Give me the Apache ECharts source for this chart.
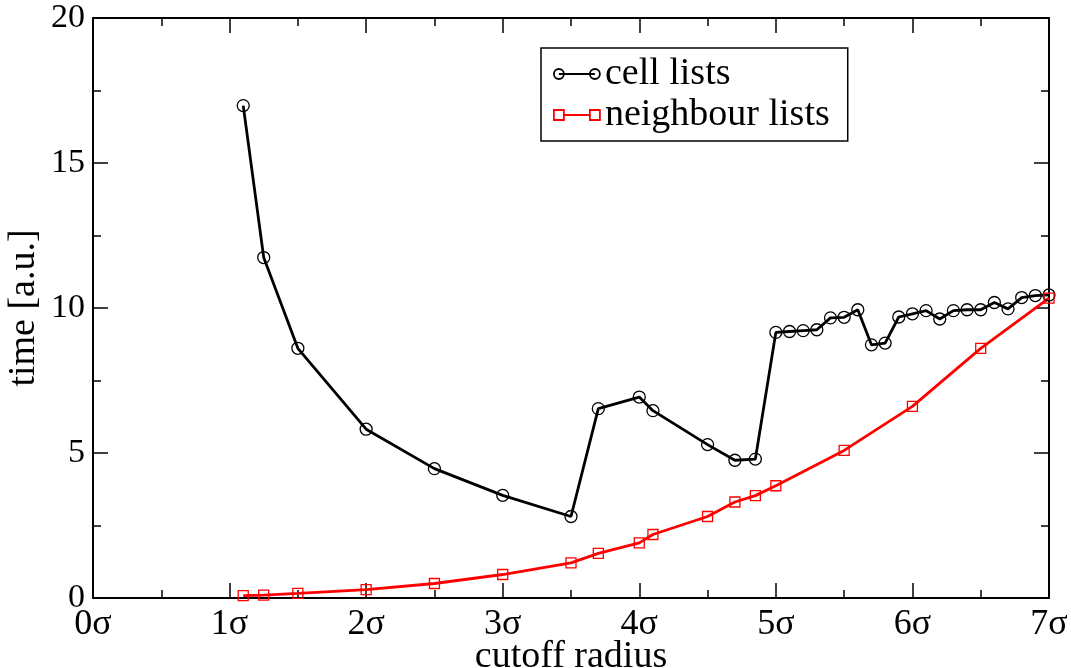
<!DOCTYPE html>
<html>
<head>
    <meta charset="utf-8">
    <title>cutoff radius</title>
    <script src="https://cdn.jsdelivr.net/npm/echarts@6/dist/echarts.min.js"></script>
    <style>
        html, body { margin: 0; padding: 0; background: #ffffff; }
        #main { width: 1071px; height: 668px; }
    </style>
</head>
<body>
<div id="main"></div>
<script>
    // cell lists
    var cellX = [1.1, 1.25, 1.5, 2.0, 2.5, 3.0, 3.5, 3.7, 4.0, 4.1, 4.5, 4.7, 4.85,
        5.0, 5.1, 5.2, 5.3, 5.4, 5.5, 5.6, 5.7, 5.8, 5.9, 6.0, 6.1, 6.2, 6.3, 6.4, 6.5,
        6.6, 6.7, 6.8, 6.9, 7.0];
    var cellY = [16.98, 11.74, 8.61, 5.82, 4.46, 3.54, 2.81, 6.53, 6.93, 6.46, 5.29, 4.75, 4.79,
        9.16, 9.19, 9.22, 9.25, 9.66, 9.68, 9.94, 8.73, 8.79, 9.69, 9.80, 9.91, 9.62, 9.91, 9.94, 9.94,
        10.19, 9.97, 10.36, 10.43, 10.45];
    // neighbour lists
    var nbX = [1.1, 1.25, 1.5, 2.0, 2.5, 3.0, 3.5, 3.7, 4.0, 4.1, 4.5, 4.7, 4.85, 5.0, 5.5, 6.0, 6.5, 7.0];
    var nbY = [0.08, 0.10, 0.16, 0.29, 0.50, 0.81, 1.21, 1.54, 1.90, 2.19, 2.81, 3.31, 3.53, 3.87, 5.09, 6.61, 8.61, 10.34];

    function pairs(xs, ys) {
        var out = [];
        for (var i = 0; i < xs.length; i++) out.push([xs[i], ys[i]]);
        return out;
    }

    var font = 'Liberation Serif';
    var chart = echarts.init(document.getElementById('main'));

    var tickStyle = { show: true, inside: true, length: 15, lineStyle: { color: '#000', width: 1.5 } };
    var minorStyle = { show: true, splitNumber: 2, length: 8, lineStyle: { color: '#000', width: 1.5 } };
    var lineAxis = { show: true, onZero: false, lineStyle: { color: '#000', width: 2 } };

    // legend icons: line with a marker at both ends
    var circIcon = 'path://M5,6L41,6M10,6A5,5,0,1,1,0,6A5,5,0,1,1,10,6M46,6A5,5,0,1,1,36,6A5,5,0,1,1,46,6';
    var rectIcon = 'path://M0,1L10,1L10,11L0,11ZM36,1L46,1L46,11L36,11ZM10,6L36,6';

    chart.setOption({
        animation: false,
        backgroundColor: '#ffffff',
        grid: { left: 93, right: 22, top: 18, bottom: 70, outerBoundsMode: 'none', containLabel: false },
        legend: {
            left: 541, top: 48,
            orient: 'vertical',
            backgroundColor: '#fff',
            borderColor: '#000', borderWidth: 1.5,
            padding: [7, 18, 7, 12],
            itemWidth: 46, itemHeight: 12, itemGap: 3,
            textStyle: { fontFamily: font, fontSize: 38, lineHeight: 38, color: '#000' },
            data: [{
                name: 'cell lists', icon: circIcon,
                itemStyle: { color: 'transparent', borderColor: '#000', borderWidth: 1.8 }
            }, {
                name: 'neighbour lists', icon: rectIcon,
                itemStyle: { color: 'transparent', borderColor: '#ff0000', borderWidth: 1.8 }
            }]
        },
        xAxis: [{
            type: 'value', min: 0, max: 7, interval: 1,
            name: 'cutoff radius', nameLocation: 'middle', nameGap: 40, nameMoveOverlap: false,
            nameTextStyle: { fontFamily: font, fontSize: 38, color: '#000' },
            axisLine: lineAxis,
            axisTick: tickStyle,
            minorTick: minorStyle,
            splitLine: { show: false },
            axisLabel: { margin: 9, fontFamily: font, fontSize: 36, color: '#000',
                formatter: function (v) { return v + 'σ'; } }
        }, {
            type: 'value', min: 0, max: 7, interval: 1, position: 'top',
            axisLine: lineAxis, axisTick: tickStyle, minorTick: minorStyle,
            splitLine: { show: false }, axisLabel: { show: false }
        }],
        yAxis: [{
            type: 'value', min: 0, max: 20, interval: 5,
            name: 'time [a.u.]', nameLocation: 'middle', nameGap: 50, nameRotate: 90, nameMoveOverlap: false,
            nameTextStyle: { fontFamily: font, fontSize: 38, color: '#000' },
            axisLine: lineAxis,
            axisTick: tickStyle,
            minorTick: minorStyle,
            splitLine: { show: false },
            axisLabel: { margin: 8, fontFamily: font, fontSize: 34, color: '#000' }
        }, {
            type: 'value', min: 0, max: 20, interval: 5, position: 'right',
            axisLine: lineAxis, axisTick: tickStyle, minorTick: minorStyle,
            splitLine: { show: false }, axisLabel: { show: false }
        }],
        series: [{
            name: 'cell lists',
            type: 'line',
            data: pairs(cellX, cellY),
            symbol: 'circle',
            symbolSize: 12,
            color: '#000',
            lineStyle: { color: '#000', width: 2.8 },
            itemStyle: { color: 'transparent', borderColor: '#000', borderWidth: 1.3 }
        }, {
            name: 'neighbour lists',
            type: 'line',
            data: pairs(nbX, nbY),
            symbol: 'rect',
            symbolSize: 10,
            color: '#ff0000',
            lineStyle: { color: '#ff0000', width: 2.8 },
            itemStyle: { color: 'transparent', borderColor: '#ff0000', borderWidth: 1.3 }
        }]
    });
</script>
</body>
</html>
